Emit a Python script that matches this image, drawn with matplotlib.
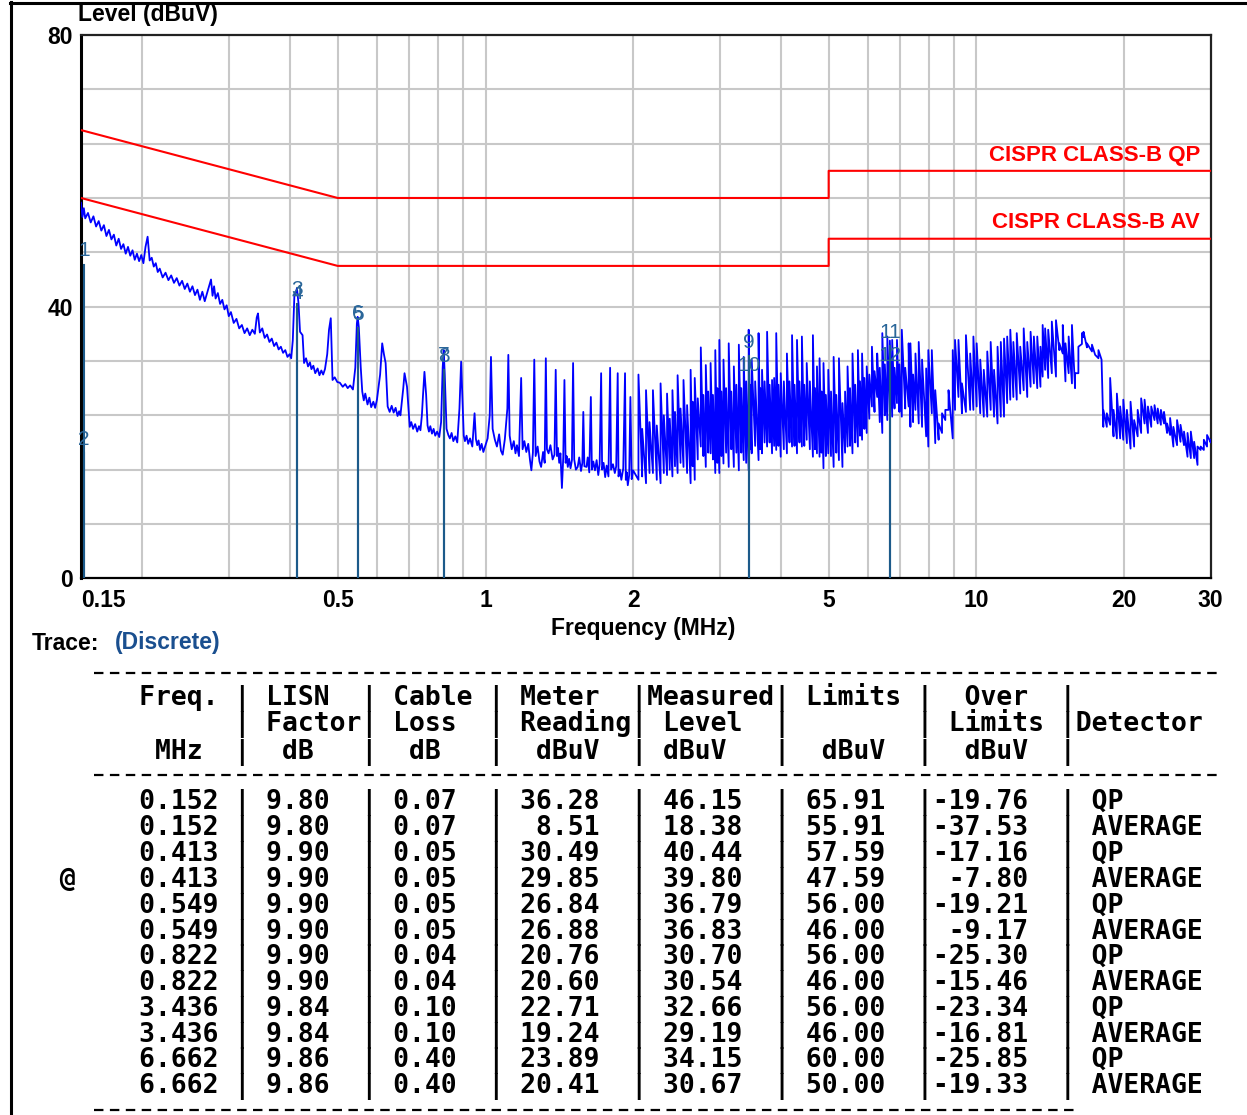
import matplotlib
matplotlib.use("Agg")
import matplotlib.pyplot as plt
from matplotlib.lines import Line2D

plt.rcParams['font.family'] = ['Liberation Sans', 'DejaVu Sans']
plt.rcParams['lines.scale_dashes'] = False

W, H = 1247, 1115

# ---------------- data ----------------
LIMIT_F = [0.15, 0.5, 5.0, 5.0, 30.0]
QP_LIMIT = [66.0, 56.0, 56.0, 60.0, 60.0]
AV_LIMIT = [56.0, 46.0, 46.0, 50.0, 50.0]

# sequential trace samples 0.15 - 2 MHz
TRACE_F = [0.150, 0.151, 0.152, 0.153, 0.155, 0.157, 0.159, 0.161, 0.163, 0.165,
           0.167, 0.169, 0.171, 0.173, 0.175, 0.177, 0.179, 0.181, 0.183, 0.185,
           0.187, 0.189, 0.191, 0.193, 0.195, 0.197, 0.199, 0.201, 0.203, 0.205,
           0.207, 0.209, 0.211, 0.213, 0.215, 0.217, 0.220, 0.223, 0.226, 0.229,
           0.232, 0.235, 0.238, 0.241, 0.244, 0.247, 0.250, 0.253, 0.256, 0.259,
           0.262, 0.265, 0.268, 0.271, 0.274, 0.276, 0.278, 0.280, 0.282, 0.285,
           0.288, 0.291, 0.294, 0.297, 0.300, 0.303, 0.307, 0.311, 0.315, 0.319,
           0.323, 0.327, 0.331, 0.335, 0.339, 0.342, 0.344, 0.347, 0.351, 0.355,
           0.359, 0.363, 0.367, 0.371, 0.375, 0.379, 0.383, 0.387, 0.391, 0.395,
           0.399, 0.402, 0.405, 0.408, 0.413, 0.416, 0.419, 0.424, 0.427, 0.431,
           0.435, 0.439, 0.442, 0.446, 0.450, 0.455, 0.459, 0.463, 0.467, 0.471,
           0.476, 0.480, 0.484, 0.488, 0.493, 0.499, 0.505, 0.512, 0.518, 0.524,
           0.530, 0.537, 0.543, 0.547, 0.549, 0.552, 0.557, 0.561, 0.565, 0.569,
           0.575, 0.580, 0.585, 0.591, 0.596, 0.601, 0.610, 0.616, 0.621, 0.626,
           0.632, 0.638, 0.644, 0.650, 0.656, 0.662, 0.667, 0.671, 0.680, 0.684,
           0.692, 0.701, 0.706, 0.712, 0.719, 0.726, 0.732, 0.737, 0.742, 0.746,
           0.751, 0.757, 0.762, 0.767, 0.772, 0.778, 0.784, 0.790, 0.797, 0.805,
           0.812, 0.818, 0.822, 0.826, 0.833, 0.840, 0.846, 0.853, 0.860, 0.868,
           0.876, 0.885, 0.892, 0.898, 0.903, 0.908, 0.915, 0.922, 0.930, 0.940,
           0.950, 0.956, 0.962, 0.968, 0.975, 0.982, 0.990, 0.998, 1.010, 1.020,
           1.026, 1.034, 1.045, 1.055, 1.066, 1.075, 1.084, 1.095, 1.108, 1.113,
           1.120, 1.131, 1.142, 1.151, 1.159, 1.170, 1.182, 1.190, 1.200, 1.211,
           1.222, 1.232, 1.240, 1.249, 1.257, 1.265, 1.277, 1.288, 1.298, 1.310,
           1.320, 1.327, 1.334, 1.344, 1.356, 1.370, 1.382, 1.390, 1.398, 1.405,
           1.413, 1.421, 1.431, 1.440, 1.448, 1.456, 1.463, 1.471, 1.480, 1.490,
           1.500, 1.508, 1.516, 1.528, 1.541, 1.552, 1.565, 1.575, 1.582, 1.590,
           1.606, 1.615, 1.627, 1.639, 1.647, 1.658, 1.671, 1.684, 1.697, 1.708,
           1.720, 1.728, 1.740, 1.753, 1.765, 1.780, 1.794, 1.802, 1.818, 1.834,
           1.846, 1.859, 1.866, 1.878, 1.891, 1.908, 1.924, 1.931, 1.940, 1.949,
           1.962, 1.973, 1.985, 1.998]
TRACE_L = [55.3, 53.2, 54.5, 53.0, 53.8, 52.4, 53.3, 51.8, 52.6, 51.2,
           52.0, 50.4, 51.3, 49.9, 50.6, 49.0, 50.0, 48.5, 49.2, 47.8,
           48.8, 47.5, 48.3, 46.9, 47.8, 46.7, 47.6, 46.4, 48.8, 50.3,
           46.8, 47.2, 45.9, 46.4, 45.1, 45.6, 44.3, 45.0, 43.9, 44.6,
           43.5, 44.2, 43.1, 43.8, 42.6, 43.4, 42.2, 43.0, 41.7, 42.5,
           41.0, 42.2, 40.8, 42.0, 43.2, 44.0, 41.6, 43.0, 41.2, 42.0,
           40.4, 41.0, 39.6, 40.2, 38.6, 39.2, 37.6, 38.2, 36.8, 37.3,
           36.1, 36.8, 35.8, 36.6, 36.0, 38.4, 39.0, 36.2, 36.8, 35.4,
           35.9, 34.8, 35.3, 34.2, 34.7, 33.7, 34.1, 33.2, 33.6, 32.6,
           33.0, 32.4, 35.0, 41.5, 42.7, 40.5, 36.3, 35.8, 31.7, 32.4,
           31.2, 31.8, 30.8, 31.3, 30.2, 30.9, 29.9, 30.6, 30.0, 30.8,
           33.0, 36.6, 38.3, 29.2, 29.6, 28.9, 28.8, 28.2, 28.6, 28.0,
           28.4, 27.8, 31.0, 37.5, 38.5, 37.0, 31.1, 27.5, 26.2, 27.2,
           25.6, 26.6, 25.2, 26.0, 25.1, 26.3, 30.0, 34.6, 33.0, 31.7,
           25.3, 24.5, 25.4, 24.4, 25.1, 23.9, 24.6, 24.0, 28.0, 30.2,
           28.2, 22.3, 23.0, 22.0, 22.7, 21.6, 22.4, 21.8, 24.0, 27.0,
           30.4, 27.0, 22.5, 21.6, 22.4, 21.3, 22.0, 21.0, 21.6, 20.8,
           23.0, 31.0, 33.6, 30.0, 22.0, 21.1, 20.6, 21.4, 20.2, 20.9,
           20.0, 25.0, 31.9, 26.0, 21.0, 20.2, 21.0, 19.8, 20.6, 19.4,
           24.3, 20.5, 19.6, 20.3, 18.9, 19.8, 18.6, 19.4, 20.6, 24.0,
           32.6, 22.0, 20.4, 19.4, 21.2, 18.8, 18.2, 20.5, 25.0, 32.9,
           21.0, 19.0, 20.2, 18.4, 19.6, 18.0, 29.5, 19.0, 20.2, 18.6,
           19.8, 17.4, 15.9, 18.5, 32.2, 18.0, 19.4, 17.2, 16.4, 18.6,
           17.0, 32.4, 19.0, 18.4, 19.6, 17.5, 18.2, 30.7, 18.0, 19.2,
           17.0, 18.4, 13.3, 17.8, 29.2, 17.0, 18.0, 16.4, 17.6, 16.2,
           17.4, 31.7, 17.5, 16.0, 16.4, 17.8, 15.8, 17.0, 24.5, 16.5,
           16.4, 17.8, 15.6, 26.7, 16.0, 17.2, 15.9, 17.4, 15.2, 16.8,
           30.2, 16.0, 17.0, 14.9, 16.6, 15.0, 31.0, 16.0, 16.8, 15.5,
           16.5, 30.2, 15.0, 16.0, 14.5, 16.2, 30.2, 14.5, 15.6, 13.7,
           15.2, 26.7, 14.6, 15.9]

# dense part 2 - 30 MHz: each sample is a vertical stroke from low to high
SPK_F = [2.049, 2.085, 2.123, 2.158, 2.193, 2.233, 2.273, 2.308, 2.343, 2.373,
         2.403, 2.432, 2.462, 2.496, 2.531, 2.574, 2.617, 2.642, 2.668, 2.706,
         2.745, 2.778, 2.810, 2.842, 2.874, 2.906, 2.938, 2.966, 2.994, 3.023,
         3.053, 3.091, 3.129, 3.167, 3.205, 3.243, 3.281, 3.319, 3.357, 3.396,
         3.436, 3.460, 3.485, 3.542, 3.599, 3.628, 3.658, 3.702, 3.746, 3.790,
         3.834, 3.872, 3.910, 3.951, 3.993, 4.052, 4.111, 4.161, 4.211, 4.260,
         4.310, 4.360, 4.410, 4.460, 4.511, 4.578, 4.644, 4.690, 4.733, 4.791,
         4.835, 4.880, 4.935, 4.991, 5.055, 5.118, 5.182, 5.247, 5.334, 5.400,
         5.463, 5.527, 5.591, 5.663, 5.735, 5.792, 5.848, 5.912, 5.977, 6.050,
         6.125, 6.200, 6.278, 6.354, 6.430, 6.507, 6.583, 6.662, 6.735, 6.810,
         6.888, 6.967, 7.046, 7.160, 7.277, 7.337, 7.430, 7.512, 7.628, 7.748,
         7.899, 7.979, 8.111, 8.243, 8.374, 8.509, 8.641, 8.772, 8.947, 9.044,
         9.191, 9.342, 9.519, 9.710, 9.857, 10.01, 10.18, 10.35, 10.52, 10.69,
         10.86, 11.04, 11.21, 11.38, 11.55, 11.72, 11.89, 12.08, 12.28, 12.48,
         12.69, 12.89, 13.09, 13.30, 13.50, 13.64, 13.80, 14.00, 14.24, 14.52,
         14.75, 14.99, 15.18, 15.41, 15.65, 15.88, 16.13, 16.40, 16.52, 16.79,
         17.19, 17.45, 17.72, 17.98, 18.13, 18.43, 18.72, 19.02, 19.32, 19.62,
         19.91, 20.25, 20.60, 20.95, 21.30, 21.65, 22.00, 22.35, 22.70, 23.05,
         23.40, 23.75, 24.10, 24.45, 24.80, 25.18, 25.62, 26.04, 26.47, 26.91,
         27.33, 27.76, 28.20, 28.62, 29.05, 29.49, 30.00]
SPK_HI = [30.0, 22.0, 27.7, 23.0, 27.7, 22.5, 28.7, 24.0, 27.2, 23.5,
          27.7, 24.5, 29.9, 25.0, 29.2, 25.5, 30.7, 26.0, 29.5, 26.5,
          34.0, 27.0, 31.4, 27.5, 31.7, 27.0, 33.6, 28.0, 35.1, 27.5,
          32.2, 28.0, 34.6, 27.5, 31.2, 28.5, 34.4, 28.0, 32.6, 29.0,
          36.6, 28.5, 32.2, 29.0, 36.1, 28.0, 30.7, 29.0, 36.3, 28.5,
          29.2, 29.5, 36.1, 28.5, 30.2, 29.0, 33.1, 29.0, 35.8, 28.5,
          35.1, 29.0, 35.6, 28.5, 31.7, 29.0, 35.8, 28.0, 31.2, 32.4,
          27.5, 31.7, 27.0, 30.7, 27.5, 32.6, 27.0, 32.4, 25.8, 27.5,
          31.2, 28.0, 33.1, 28.5, 33.6, 29.0, 33.1, 29.5, 31.2, 30.0,
          34.1, 30.5, 33.1, 31.0, 36.1, 31.5, 35.6, 35.0, 35.1, 31.0,
          35.1, 31.5, 36.6, 31.0, 34.6, 34.6, 30.0, 33.1, 34.8, 32.2,
          30.9, 33.6, 33.6, 27.7, 22.8, 24.3, 24.8, 27.7, 33.6, 35.1,
          35.1, 28.7, 35.8, 33.1, 35.6, 34.6, 32.2, 30.7, 33.4, 34.8,
          30.7, 34.1, 34.8, 35.3, 35.6, 36.6, 34.8, 36.1, 34.1, 36.8,
          34.8, 36.3, 35.6, 35.6, 34.1, 37.3, 36.8, 36.6, 37.8, 38.0,
          34.6, 37.3, 34.6, 35.6, 37.3, 30.2, 34.1, 36.1, 36.3, 34.6,
          34.4, 32.9, 33.6, 32.2, 24.8, 24.3, 29.5, 24.8, 27.2, 25.3,
          26.3, 24.8, 26.0, 23.3, 24.8, 26.5, 26.3, 25.3, 25.3, 25.5,
          25.0, 24.8, 24.5, 22.8, 23.6, 22.3, 23.3, 22.6, 21.6, 21.4,
          21.6, 20.1, 19.4, 19.4, 20.4, 21.1, 20.4]
SPK_LO = [14.5, 15.0, 14.0, 15.5, 15.5, 14.5, 14.0, 15.5, 15.2, 16.0,
          15.0, 16.5, 15.5, 17.0, 16.4, 15.5, 14.0, 16.5, 14.5, 17.5,
          19.4, 18.0, 16.4, 18.5, 18.4, 17.5, 15.5, 17.0, 15.5, 18.0,
          16.9, 18.5, 16.4, 19.0, 16.4, 18.5, 15.9, 18.5, 17.4, 17.0,
          15.9, 19.0, 18.4, 19.5, 17.4, 19.0, 18.4, 20.0, 19.4, 20.0,
          18.4, 19.5, 18.9, 19.5, 17.9, 19.0, 18.4, 20.0, 19.4, 19.5,
          18.4, 20.0, 19.4, 19.5, 20.4, 19.0, 17.9, 19.0, 18.4, 17.9,
          18.5, 16.2, 18.0, 18.4, 18.0, 16.4, 18.5, 17.4, 16.4, 18.5,
          19.4, 19.5, 18.4, 20.0, 19.4, 21.0, 20.4, 22.0, 21.4, 23.5,
          25.3, 24.5, 26.7, 23.0, 21.4, 24.0, 23.3, 24.5, 23.8, 25.0,
          25.8, 24.5, 23.8, 25.0, 25.3, 22.3, 23.0, 24.8, 22.8, 22.3,
          20.9, 19.4, 24.3, 19.9, 20.4, 21.4, 23.3, 24.8, 20.6, 24.8,
          26.7, 24.3, 24.5, 24.8, 24.8, 25.3, 24.3, 23.8, 23.8, 24.8,
          23.8, 22.8, 23.8, 23.8, 25.8, 26.3, 26.7, 26.3, 27.2, 27.7,
          26.7, 28.2, 28.7, 28.0, 28.2, 29.7, 30.7, 29.5, 30.2, 29.7,
          33.6, 33.1, 29.0, 30.2, 28.7, 28.0, 30.2, 34.5, 35.5, 34.0,
          33.4, 32.9, 32.4, 32.2, 22.3, 22.3, 22.6, 20.9, 20.6, 20.6,
          20.4, 19.9, 19.1, 19.4, 20.9, 21.4, 22.8, 21.4, 22.3, 23.3,
          22.8, 22.6, 22.8, 21.4, 21.1, 19.4, 19.6, 20.1, 19.6, 17.9,
          17.7, 17.7, 16.7, 18.9, 18.9, 19.4, 20.0]

# discrete (final) measurements
MARK_ID = ["1", "2", "3", "4", "5", "6", "7", "8", "9", "10", "11", "12"]
MARK_F = [0.152, 0.152, 0.413, 0.413, 0.549, 0.549, 0.822, 0.822, 3.436, 3.436, 6.662, 6.662]
MARK_L = [46.15, 18.38, 40.44, 39.80, 36.79, 36.83, 30.70, 30.54, 32.66, 29.19, 34.15, 30.67]

# table
TBL_FREQ = [0.152, 0.152, 0.413, 0.413, 0.549, 0.549, 0.822, 0.822, 3.436, 3.436, 6.662, 6.662]
TBL_LISN = [9.80, 9.80, 9.90, 9.90, 9.90, 9.90, 9.90, 9.90, 9.84, 9.84, 9.86, 9.86]
TBL_CABLE = [0.07, 0.07, 0.05, 0.05, 0.05, 0.05, 0.04, 0.04, 0.10, 0.10, 0.40, 0.40]
TBL_METER = [36.28, 8.51, 30.49, 29.85, 26.84, 26.88, 20.76, 20.60, 22.71, 19.24, 23.89, 20.41]
TBL_MEAS = [46.15, 18.38, 40.44, 39.80, 36.79, 36.83, 30.70, 30.54, 32.66, 29.19, 34.15, 30.67]
TBL_LIMIT = [65.91, 55.91, 57.59, 47.59, 56.00, 46.00, 56.00, 46.00, 56.00, 46.00, 60.00, 50.00]
TBL_OVER = [-19.76, -37.53, -17.16, -7.80, -19.21, -9.17, -25.30, -15.46, -23.34, -16.81, -25.85, -19.33]
TBL_DET = ["QP", "AVERAGE", "QP", "AVERAGE", "QP", "AVERAGE", "QP", "AVERAGE", "QP", "AVERAGE", "QP", "AVERAGE"]
TBL_FLAG = ["", "", "", "@", "", "", "", "", "", "", "", ""]

X_TICKS = [0.15, 0.5, 1, 2, 5, 10, 20, 30]
X_TICK_LABELS = ["0.15", "0.5", "1", "2", "5", "10", "20", "30"]
Y_TICKS = [0, 40, 80]
GRID_X = [0.2, 0.3, 0.4, 0.5, 0.6, 0.7, 0.8, 0.9, 1, 2, 3, 4, 5, 6, 7, 8, 9, 10, 20]
GRID_Y = [8, 16, 24, 32, 40, 48, 56, 64, 72]

# ---------------- figure ----------------
fig = plt.figure(figsize=(W / 100, H / 100), dpi=100)
fig.patch.set_facecolor('white')

def fx(px):
    return px / W

def fy(py):
    return 1 - py / H

ax = fig.add_axes([fx(81), fy(578.3), fx(1210.7) - fx(81), fy(35) - fy(578.3)])
ax.set_xscale('log')
ax.set_xlim(0.15, 30)
ax.set_ylim(0, 80)

for g in GRID_X:
    ax.axvline(g, color='#c8c8c8', lw=1.5, zorder=1)
for g in GRID_Y:
    ax.axhline(g, color='#c8c8c8', lw=1.5, zorder=1)

# limit lines
ax.plot(LIMIT_F, QP_LIMIT, color='#ff0000', lw=1.5, zorder=4)
ax.plot(LIMIT_F, AV_LIMIT, color='#ff0000', lw=1.5, zorder=4)

# trace
tf = list(TRACE_F)
tl = list(TRACE_L)
for f, hi, lo in zip(SPK_F, SPK_HI, SPK_LO):
    tf += [f, f]
    tl += [lo, hi]
ax.plot(tf, tl, color='#0000ff', lw=1.3, zorder=3)

# discrete markers
mcol = '#1c5a8a'
for f, lvl in zip(MARK_F, MARK_L):
    ax.plot([f, f], [0, lvl], color=mcol, lw=1.5, zorder=5)
for lab, f, lvl in zip(MARK_ID, MARK_F, MARK_L):
    ax.annotate(lab, (f, lvl), xytext=(0, 3.5), textcoords='offset points',
                ha='center', va='bottom', fontsize=15, color='#2a6699', zorder=6)

ax.set_xticks(X_TICKS)
ax.set_xticklabels(X_TICK_LABELS)
ax.xaxis.set_minor_locator(matplotlib.ticker.NullLocator())
ax.set_yticks(Y_TICKS)
ax.tick_params(length=0, labelsize=16.5)
ax.tick_params(axis='x', pad=8)
ax.tick_params(axis='y', pad=6)
for t in ax.get_xticklabels() + ax.get_yticklabels():
    t.set_fontweight('bold')
ax.get_xticklabels()[0].set_ha('left')

for s in ax.spines.values():
    s.set_color('#222222')
    s.set_linewidth(1.6)
ax.spines['left'].set_linewidth(2.2)
ax.spines['left'].set_color('black')
ax.spines['bottom'].set_color('black')

# texts
fig.text(fx(78), fy(15), "Level (dBuV)", ha='left', va='center', fontsize=16.5, fontweight='bold')
fig.text(fx(643), fy(628), "Frequency (MHz)", ha='center', va='center', fontsize=16.5, fontweight='bold')
fig.text(fx(32), fy(643), "Trace:", ha='left', va='center', fontsize=16.5, fontweight='bold')
fig.text(fx(115), fy(643), "(Discrete)", ha='left', va='center', fontsize=16.5, fontweight='bold', color='#1a4f8f')
fig.text(fx(1200), fy(156), "CISPR CLASS-B QP", ha='right', va='center', fontsize=16, fontweight='bold', color='#ff0000')
fig.text(fx(1200), fy(223), "CISPR CLASS-B AV", ha='right', va='center', fontsize=16, fontweight='bold', color='#ff0000')

# border lines
fig.add_artist(Line2D([fx(10.5), fx(10.5)], [0, fy(2)], transform=fig.transFigure, color='black', lw=2.2))
fig.add_artist(Line2D([fx(9.5), 1], [fy(3), fy(3)], transform=fig.transFigure, color='black', lw=2.2))

# table dashed separators (typed '-' characters in the original)
dash_style = (0, (6.8, 4.65))
for yy, xend in ((673, 1220), (775, 1220), (1110, 1078)):
    fig.add_artist(Line2D([fx(94), fx(xend)], [fy(yy), fy(yy)], transform=fig.transFigure,
                          color='black', lw=1.6, ls=dash_style))

# table text
mono = dict(family='DejaVu Sans Mono', fontweight='bold', fontsize=19, ha='left', va='baseline', color='black')
x0 = fx(28)
H1 = "       Freq. | LISN  | Cable | Meter  |Measured| Limits |  Over  |"
H2 = "             | Factor| Loss  | Reading| Level  |        | Limits |Detector"
H3 = "        MHz  |  dB   |  dB   |  dBuV  | dBuV   |  dBuV  |  dBuV  |"
cap = 9.5
fig.text(x0, fy(695 + cap), H1, **mono)
fig.text(x0, fy(722 + cap), H2, **mono)
fig.text(x0, fy(749 + cap), H3, **mono)
for i in range(len(TBL_FREQ)):
    flag = TBL_FLAG[i] if TBL_FLAG[i] else " "
    s = (f"  {flag}    {TBL_FREQ[i]:.3f} | {TBL_LISN[i]:.2f}  | {TBL_CABLE[i]:.2f}  | "
         f"{TBL_METER[i]:>5.2f}  | {TBL_MEAS[i]:>5.2f}  | {TBL_LIMIT[i]:>5.2f}  |"
         f"{TBL_OVER[i]:>6.2f}  | {TBL_DET[i]}")
    fig.text(x0, fy(800 + 25.8 * i + cap), s, **mono)

fig.savefig('out.png', dpi=100, facecolor='white')
